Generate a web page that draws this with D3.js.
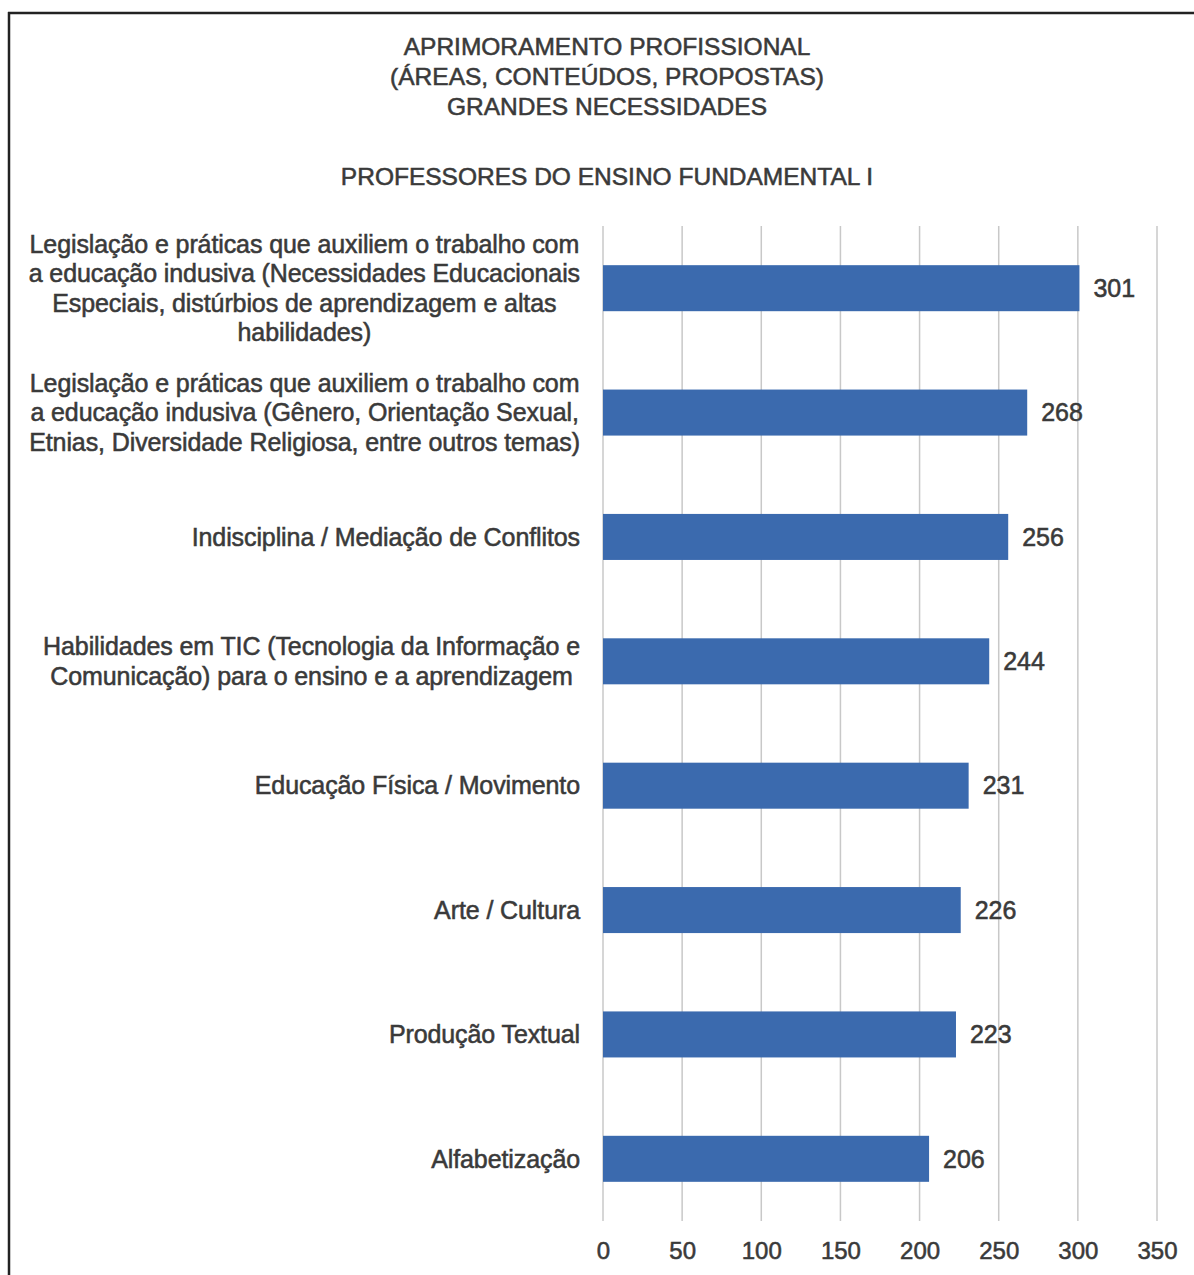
<!DOCTYPE html>
<html>
<head>
<meta charset="utf-8">
<script src="https://cdn.jsdelivr.net/npm/d3@7"></script>
<style>
  body { margin: 0; background: #fff; }
  svg { display: block; font-family: "Liberation Sans", Arial, sans-serif; }
</style>
</head>
<body>
<svg id="chart" width="1194" height="1275"></svg>
<script>
var width = 1194;
var height = 1275;

// chart data, top to bottom
var categories = [
  ['Legislação e práticas que auxiliem o trabalho com',
   'a educação indusiva (Necessidades Educacionais',
   'Especiais, distúrbios de aprendizagem e altas',
   'habilidades)'],
  ['Legislação e práticas que auxiliem o trabalho com',
   'a educação indusiva (Gênero, Orientação Sexual,',
   'Etnias, Diversidade Religiosa, entre outros temas)'],
  ['Indisciplina / Mediação de Conflitos'],
  ['Habilidades em TIC (Tecnologia da Informação e',
   'Comunicação) para o ensino e a aprendizagem'],
  ['Educação Física / Movimento'],
  ['Arte / Cultura'],
  ['Produção Textual'],
  ['Alfabetização']
];
var values = [301, 268, 256, 244, 231, 226, 223, 206];
var ticks = [0, 50, 100, 150, 200, 250, 300, 350];
var titleLines = ['APRIMORAMENTO PROFISSIONAL', '(ÁREAS, CONTEÚDOS, PROPOSTAS)', 'GRANDES NECESSIDADES'];
var subtitle = 'PROFESSORES DO ENSINO FUNDAMENTAL I';

var plot = {left: 603, right: 1157, top: 226, bottom: 1221};
var labelRight = 580;
var textColor = '#3a3a3a';
var barColor = '#3b6aae';
var thick = 0.55; // scanned text looks heavier than plain regular weight

var svg = d3.select('#chart');

// frame of the original figure (only top and left edges are visible)
svg.append('line')
  .attr('x1', 8).attr('x2', width).attr('y1', 13).attr('y2', 13)
  .attr('stroke', '#222').attr('stroke-width', 2.5);
svg.append('line')
  .attr('x1', 9).attr('x2', 9).attr('y1', 12).attr('y2', height)
  .attr('stroke', '#222').attr('stroke-width', 2.5);

function heavy(sel) {
  return sel.attr('fill', textColor)
    .attr('stroke', textColor)
    .attr('stroke-width', thick);
}

// titles
svg.selectAll('.title')
  .data(titleLines).enter().append('text')
  .classed('title', true)
  .attr('x', 607)
  .attr('y', (d, i) => 55 + i * 30)
  .attr('text-anchor', 'middle')
  .attr('font-size', 24.5)
  .call(heavy)
  .text(d => d);

svg.append('text')
  .attr('x', 607)
  .attr('y', 185)
  .attr('text-anchor', 'middle')
  .attr('font-size', 24.5)
  .call(heavy)
  .text(subtitle);

var x = d3.scaleLinear().domain([0, 350]).range([plot.left, plot.right]);
var y = d3.scaleBand()
  .domain(d3.range(values.length))
  .range([plot.top, plot.bottom])
  .paddingInner(0.63)
  .paddingOuter(0.315);

// vertical gridlines
svg.append('g')
  .selectAll('line')
  .data(ticks).enter().append('line')
  .attr('x1', d => x(d)).attr('x2', d => x(d))
  .attr('y1', plot.top).attr('y2', plot.bottom)
  .attr('stroke', '#c8c8c8')
  .attr('stroke-width', 1.5);

// tick labels
var xAxis = svg.append('g')
  .attr('transform', 'translate(0,' + (plot.bottom + 21) + ')')
  .call(d3.axisBottom(x).tickValues(ticks).tickSize(0).tickPadding(0));
xAxis.select('.domain').remove();
xAxis.selectAll('text')
  .attr('font-size', 24)
  .attr('font-family', '"Liberation Sans", Arial, sans-serif')
  .call(heavy);

// bars
svg.selectAll('.bar')
  .data(values).enter().append('rect')
  .classed('bar', true)
  .attr('x', x(0))
  .attr('y', (d, i) => y(i))
  .attr('width', d => x(d) - x(0))
  .attr('height', y.bandwidth())
  .attr('fill', barColor);

// value labels
svg.selectAll('.value')
  .data(values).enter().append('text')
  .classed('value', true)
  .attr('x', d => x(d) + 14)
  .attr('y', (d, i) => y(i) + y.bandwidth() / 2)
  .attr('dy', '.35em')
  .attr('font-size', 25)
  .call(heavy)
  .text(d => d);

// category labels: block right-aligned, lines centred within the block
var lineHeight = 29.5;
var groups = svg.selectAll('.cat')
  .data(categories).enter().append('g')
  .classed('cat', true);

groups.each(function(lines, i) {
  var g = d3.select(this);
  var cy = y(i) + y.bandwidth() / 2;
  var texts = g.selectAll('text')
    .data(lines).enter().append('text')
    .attr('font-size', 25)
    .attr('letter-spacing', -0.1)
    .call(heavy)
    .attr('text-anchor', 'middle')
    .attr('y', (d, j) => cy + (j - (lines.length - 1) / 2) * lineHeight)
    .attr('dy', '.35em')
    .text(d => d);
  var maxW = d3.max(texts.nodes(), n => n.getComputedTextLength());
  texts.attr('x', labelRight - maxW / 2);
});
</script>
</body>
</html>
